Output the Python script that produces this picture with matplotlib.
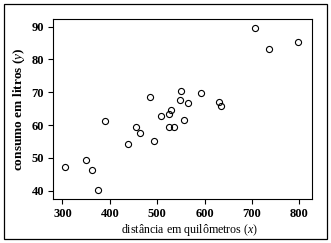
import matplotlib
matplotlib.use("Agg")
import matplotlib.pyplot as plt
from matplotlib.patches import Rectangle

plt.rcParams['font.family'] = ['Liberation Serif', 'DejaVu Serif']
plt.rcParams['mathtext.fontset'] = 'custom'
plt.rcParams['mathtext.rm'] = 'Liberation Serif'
plt.rcParams['mathtext.it'] = 'Liberation Serif:italic'
plt.rcParams['mathtext.bf'] = 'Liberation Serif:bold'

# distancia (km) e consumo (litros)
distancia = [306, 349, 363, 376, 390, 438, 456, 464, 484, 494, 509, 525,
             530, 525, 535, 548, 551, 556, 566, 593, 631, 635, 707, 735, 797]
consumo = [47.2, 49.3, 46.3, 40.2, 61.3, 54.3, 59.3, 57.5, 68.5, 55.2, 62.7,
           63.4, 64.7, 59.5, 59.5, 67.6, 70.5, 61.5, 66.6, 69.7, 67.0, 65.9,
           89.4, 83.2, 85.3]
xticks = [300, 400, 500, 600, 700, 800]
yticks = [40, 50, 60, 70, 80, 90]

fig = plt.figure(figsize=(3.31, 2.43), dpi=100)
ax = fig.add_axes([0.160, 0.181, 0.783, 0.741])

ax.plot(distancia, consumo, 'o', mfc='none', mec='black', ms=4.4, mew=0.8)
ax.set_xlim(280, 827)
ax.set_ylim(37.5, 92.3)
ax.set_xticks(xticks)
ax.set_yticks(yticks)
ax.tick_params(direction='out', length=3.5, width=0.8, labelsize=9, pad=3)
for lab in ax.get_xticklabels() + ax.get_yticklabels():
  lab.set_fontweight('bold')
for sp in ax.spines.values():
  sp.set_linewidth(0.8)

ax.set_xlabel('distância em quilômetros ($\\mathit{x}$)', fontsize=8.6, labelpad=2)
ax.xaxis.set_label_coords(0.527, -0.125)
ax.set_ylabel('consumo em litros ($\\mathit{y}$)', fontsize=9.6,
              fontweight='bold', labelpad=3)

# moldura externa
fig.patches.append(Rectangle((4/331, 4/243), 323/331, 235/243,
                             transform=fig.transFigure, fill=False,
                             edgecolor='black', linewidth=0.9))

fig.savefig('out.png', dpi=100)
